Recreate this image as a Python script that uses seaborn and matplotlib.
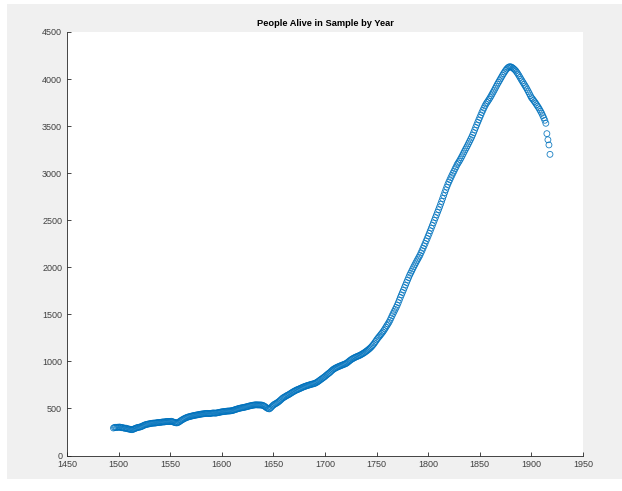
import matplotlib
matplotlib.use("Agg")
import matplotlib.pyplot as plt
from matplotlib.patches import Rectangle
import seaborn as sns
import pandas as pd

# years 1495..1918, one point per year
first_year = 1495
alive = [
    292, 298, 300, 296, 301,
    300, 303, 298, 295, 297, 292, 289, 291, 286, 283,
    281, 279, 276, 274, 278, 283, 287, 292, 296, 299,
    301, 303, 307, 312, 318, 323, 327, 330, 333, 335,
    337, 340, 342, 343, 345, 344, 346, 348, 350, 352,
    351, 353, 355, 357, 356, 358, 360, 362, 361, 360,
    362, 364, 360, 356, 352, 349, 346, 348, 353, 360,
    368, 375, 382, 388, 394, 399, 404, 408, 411, 414,
    417, 420, 422, 425, 427, 430, 431, 433, 436, 438,
    440, 441, 443, 444, 446, 447, 448, 446, 445, 447,
    449, 451, 452, 451, 450, 452, 455, 457, 459, 462,
    464, 465, 467, 468, 470, 471, 473, 472, 474, 475,
    477, 480, 484, 488, 491, 495, 498, 501, 504, 506,
    508, 510, 513, 515, 518, 521, 524, 527, 529, 532,
    534, 536, 537, 539, 538, 537, 538, 536, 537, 535,
    531, 526, 519, 510, 503, 498, 495, 503, 514, 526,
    536, 544, 550, 556, 563, 571, 580, 590, 600, 610,
    617, 623, 630, 637, 642, 648, 655, 662, 669, 676,
    682, 688, 694, 699, 703, 708, 713, 718, 723, 728,
    732, 736, 740, 744, 747, 750, 754, 757, 760, 762,
    766, 771, 777, 784, 792, 800, 808, 816, 824, 832,
    840, 850, 859, 868, 876, 885, 896, 906, 915, 922,
    928, 934, 939, 944, 949, 953, 958, 962, 967, 971,
    975, 982, 990, 999, 1008, 1016, 1024, 1030, 1036, 1042,
    1047, 1052, 1056, 1061, 1066, 1072, 1079, 1085, 1092, 1100,
    1108, 1116, 1125, 1134, 1144, 1155, 1168, 1181, 1196, 1212,
    1228, 1243, 1257, 1270, 1284, 1298, 1312, 1328, 1345, 1363,
    1381, 1398, 1416, 1437, 1461, 1485, 1508, 1530, 1552, 1574,
    1598, 1624, 1652, 1680, 1706, 1732, 1758, 1785, 1811, 1838,
    1864, 1890, 1916, 1938, 1960, 1983, 2005, 2026, 2047, 2068,
    2088, 2108, 2128, 2153, 2177, 2202, 2228, 2253, 2280, 2306,
    2333, 2360, 2388, 2416, 2444, 2472, 2500, 2528, 2556, 2584,
    2612, 2640, 2670, 2700, 2731, 2762, 2793, 2823, 2852, 2880,
    2906, 2930, 2954, 2977, 3000, 3022, 3046, 3067, 3091, 3108,
    3126, 3145, 3165, 3186, 3208, 3230, 3251, 3271, 3292, 3314,
    3336, 3358, 3380, 3405, 3431, 3458, 3486, 3513, 3540, 3566,
    3592, 3618, 3644, 3668, 3692, 3715, 3735, 3752, 3768, 3785,
    3803, 3822, 3842, 3862, 3882, 3903, 3924, 3945, 3964, 3983,
    4002, 4021, 4040, 4058, 4075, 4092, 4106, 4118, 4127, 4131,
    4130, 4125, 4117, 4108, 4098, 4086, 4070, 4054, 4036, 4017,
    3998, 3980, 3962, 3944, 3926, 3908, 3888, 3867, 3846, 3824,
    3803, 3790, 3775, 3760, 3745, 3728, 3712, 3695, 3676, 3656,
    3636, 3612, 3588, 3562, 3530, 3420, 3355, 3300, 3200,
]
years = list(range(first_year, first_year + len(alive)))
x_ticks = list(range(1450, 1951, 50))
y_ticks = list(range(0, 4501, 500))

df = pd.DataFrame({"year": years, "alive": alive})

sns.set_style("ticks")
plt.rcParams["font.family"] = ["Liberation Sans", "DejaVu Sans"]

fig = plt.figure(figsize=(6.22, 4.91), dpi=100, facecolor="white")
# grey MATLAB-style figure panel
fig.patches.append(Rectangle((7 / 622, 12 / 491), 1 - 7 / 622, 1 - 16 / 491,
                             transform=fig.transFigure, facecolor="#f0f0f0",
                             edgecolor="none", zorder=-10))
ax = fig.add_axes([67 / 622, 1 - 455.5 / 491, 516 / 622, 423.5 / 491])
ax.set_facecolor("white")

sns.scatterplot(data=df, x="year", y="alive", ax=ax, s=18, marker="o",
                facecolors="none", edgecolors="#0072BD", linewidths=0.6,
                alpha=0.9)

ax.set_xlim(1450, 1950)
ax.set_ylim(0, 4500)
ax.set_xticks(x_ticks)
ax.set_yticks(y_ticks)
ax.set_xlabel("")
ax.set_ylabel("")
for side in ["top", "right"]:
    ax.spines[side].set_visible(False)
for side in ["left", "bottom"]:
    ax.spines[side].set_color("#262626")
    ax.spines[side].set_linewidth(0.6)
ax.tick_params(direction="in", length=3, width=0.6, colors="#262626",
               labelsize=6.5, labelcolor="#404040")
ax.set_title("People Alive in Sample by Year", fontsize=6.7, fontweight="bold",
             color="black", pad=4)

fig.savefig("out.png", dpi=100)
